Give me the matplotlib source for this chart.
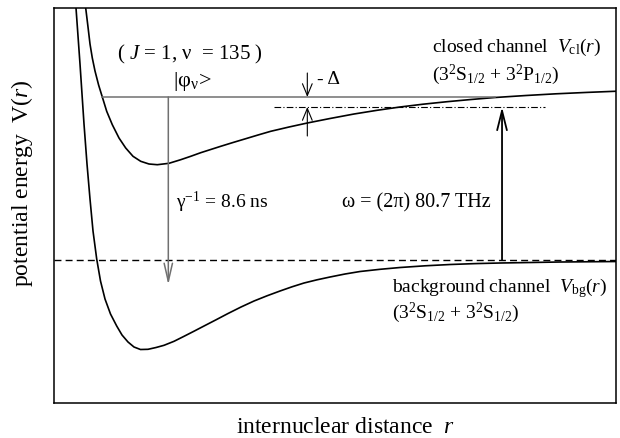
import numpy as np
import matplotlib
matplotlib.use("Agg")
import matplotlib.pyplot as plt

plt.rcParams["font.family"] = ["Liberation Serif", "DejaVu Serif"]
plt.rcParams["mathtext.fontset"] = "custom"
plt.rcParams["mathtext.rm"] = "Liberation Serif"
plt.rcParams["mathtext.it"] = "Liberation Serif:italic"

# schematic potential curves (arbitrary units)
r_bg = [20.6, 22, 26, 30, 33, 36, 39, 42.7, 46.5, 51, 56.5, 62.7, 68, 74, 80,
        86.5, 94, 102, 110, 120, 130, 140, 150, 162, 174, 187, 200, 213, 226,
        238, 250, 263, 276, 291, 306, 326, 346, 371, 396, 421, 446, 506, 563]
v_bg = [271, 252, 196, 136, 96, 61, 29, 1, -21, -39, -54, -66, -75, -82, -87,
        -89.5, -89.3, -87.5, -85.3, -81.3, -76.3, -71.2, -66, -59.8, -53.5, -47,
        -41, -35.8, -31, -26.8, -23, -19.8, -17, -14, -11.5, -9.3, -7.5, -5.8,
        -4.5, -3.6, -3, -2, -1.5]

r_cl = [30.3, 31.7, 34, 36, 38.3, 41, 44.6, 48.3, 52.7, 58.3, 65, 71.7, 79,
        86.7, 95, 103.3, 115, 126.7, 136.7, 146.7, 156.7, 166.7, 179, 191.7,
        204, 216.7, 235, 253.3, 276, 300, 323, 346, 369, 393, 417, 441, 472,
        502, 533, 563]
v_cl = [271, 252, 233, 216, 202, 189, 175, 163, 148.7, 135.3, 122, 112, 103.7,
        98.7, 96, 95.3, 96.7, 100.3, 103.7, 107.3, 110.5, 113.7, 117.5, 121.3,
        125, 128.7, 133, 137, 141.5, 146, 149.7, 153, 155.8, 158.3, 160.5,
        162.5, 164.5, 166.2, 167.6, 168.8]

v_bound = 163       # |phi_v> level
v_thresh = 153      # closed-channel threshold (dash-dot)
v_bg_thresh = 0     # background threshold (dashed)

fig = plt.figure(figsize=(6.2, 4.39), dpi=100)
ax = fig.add_axes([0.0871, 0.0797, 0.9065, 0.8998])
ax.set_xlim(0, 562)
ax.set_ylim(-143, 252)
ax.set_xticks([]); ax.set_yticks([])
for s in ax.spines.values():
    s.set_linewidth(1.1)

ax.plot(r_bg, v_bg, color="black", lw=1.2, solid_joinstyle="round")
ax.plot(r_cl, v_cl, color="black", lw=1.2, solid_joinstyle="round")

ax.axhline(v_bg_thresh, color="black", lw=1.0, dashes=(5, 3))
ax.plot([220, 491], [v_thresh, v_thresh], color="black", lw=0.8,
        dashes=(6, 2, 1, 2))
grey = "#707070"
ax.plot([48.3, 441], [v_bound, v_bound], color=grey, lw=1.1)

ax.annotate("", xy=(114.3, -24.7), xytext=(114.3, v_bound),
            arrowprops=dict(arrowstyle="->,head_length=1.3,head_width=0.3",
                            color=grey, lw=1.1, shrinkA=0, shrinkB=0,
                            mutation_scale=10))
ax.annotate("", xy=(253.3, v_bound), xytext=(253.3, 187),
            arrowprops=dict(arrowstyle="->,head_length=0.85,head_width=0.35",
                            color="black", lw=0.8, shrinkA=0, shrinkB=0,
                            mutation_scale=10))
ax.annotate("", xy=(253.3, v_thresh), xytext=(253.3, 124),
            arrowprops=dict(arrowstyle="->,head_length=0.85,head_width=0.35",
                            color="black", lw=0.8, shrinkA=0, shrinkB=0,
                            mutation_scale=10))
ax.annotate("", xy=(448, v_thresh), xytext=(448, v_bg_thresh),
            arrowprops=dict(arrowstyle="->,head_length=1.4,head_width=0.35",
                            color="black", lw=1.3, shrinkA=0, shrinkB=0,
                            mutation_scale=10))

fs = 14
ax.text(136, 207, r"( $J$ = 1, ν  = 135 )", fontsize=15, ha="center", va="center")
ax.text(138, 180, r"|φ$_{\mathrm{ν}}$>", fontsize=16, ha="center", va="center")
ax.text(263, 182, "- Δ", fontsize=fs, ha="left", va="center")
ax.text(378, 214, r"closed channel  $V_{\mathrm{cl}}(r)$", fontsize=fs,
        ha="left", va="center")
ax.text(378, 186, r"(3$^2$S$_{1/2}$ + 3$^2$P$_{1/2}$)", fontsize=fs,
        ha="left", va="center")
ax.text(122, 59, r"γ$^{\mathrm{-1}}$ = 8.6 ns", fontsize=fs, ha="left", va="center")
ax.text(288, 58, "ω = (2π) 80.7 THz", fontsize=14.5, ha="left", va="center")
ax.text(338, -27, r"background channel  $V_{\mathrm{bg}}(r)$", fontsize=fs,
        ha="left", va="center")
ax.text(338, -52, r"(3$^2$S$_{1/2}$ + 3$^2$S$_{1/2}$)", fontsize=fs,
        ha="left", va="center")

fig.text(22 / 620, 0.583, r"potential energy  V($r$)", fontsize=17,
         rotation=90, ha="center", va="center")
fig.text(0.558, 0.027, r"internuclear distance  $r$", fontsize=17,
         ha="center", va="center")

fig.savefig("out.png", dpi=100, facecolor="white")
